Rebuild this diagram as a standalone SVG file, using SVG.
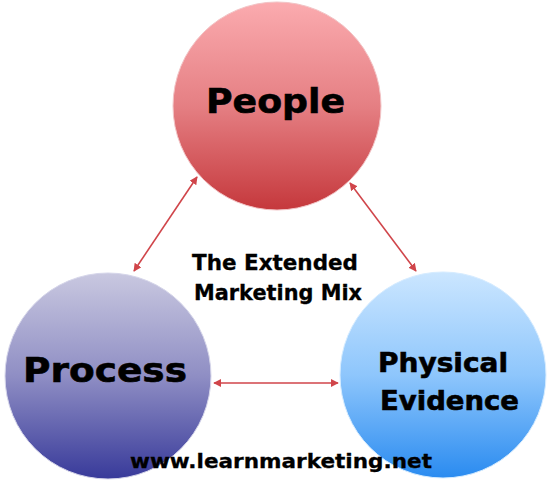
<svg xmlns="http://www.w3.org/2000/svg" width="549" height="480" viewBox="0 0 549 480">
<style>
.lbl{font-family:"DejaVu Sans","Liberation Sans",sans-serif;font-weight:bold;fill:#000;stroke:#000;stroke-width:0.6}
.sm{stroke-width:0.3}
.conn{stroke:#D0454A;stroke-width:1.6;fill:none;marker-start:url(#ah);marker-end:url(#ah)}
.ring{stroke-width:1}
</style>
<defs>
<linearGradient id="gPeople" x1="0" y1="0" x2="0" y2="1">
<stop offset="0" stop-color="#FBABAF"/>
<stop offset="0.5" stop-color="#E57F83"/>
<stop offset="1" stop-color="#C5383C"/>
</linearGradient>
<linearGradient id="gProcess" x1="0" y1="0" x2="0" y2="1">
<stop offset="0" stop-color="#C9C8E0"/>
<stop offset="0.5" stop-color="#8F8EC4"/>
<stop offset="1" stop-color="#383A9A"/>
</linearGradient>
<linearGradient id="gPhys" x1="0" y1="0" x2="0" y2="1">
<stop offset="0" stop-color="#CBE6FF"/>
<stop offset="0.5" stop-color="#8EC6FC"/>
<stop offset="1" stop-color="#2A8BF0"/>
</linearGradient>
<marker id="ah" viewBox="0 0 10 10" refX="9" refY="5" markerWidth="8" markerHeight="8" orient="auto-start-reverse" markerUnits="userSpaceOnUse">
<path d="M0,0 L10,5 L0,10 z" fill="#D0454A"/>
</marker>
</defs>
<rect width="549" height="480" fill="#fff"/>
<g id="connectors">
<line class="conn" x1="134" y1="271" x2="197" y2="177"/>
<line class="conn" x1="350" y1="183" x2="416" y2="271"/>
<line class="conn" x1="214" y1="383" x2="338" y2="383"/>
</g>
<g id="people">
<circle class="ring" cx="277" cy="106" r="104" fill="url(#gPeople)" stroke="#F2C4C6"/>
<text class="lbl" x="206" y="113" font-size="34" textLength="139" lengthAdjust="spacingAndGlyphs">People</text>
</g>
<g id="process">
<circle class="ring" cx="108" cy="376" r="103" fill="url(#gProcess)" stroke="#D6D6EA"/>
<text class="lbl" x="23" y="382" font-size="34" textLength="164" lengthAdjust="spacingAndGlyphs">Process</text>
</g>
<g id="physical-evidence">
<circle class="ring" cx="443" cy="375" r="103" fill="url(#gPhys)" stroke="#D6ECFF"/>
<text class="lbl" x="378" y="372" font-size="26" textLength="130" lengthAdjust="spacingAndGlyphs">Physical</text>
<text class="lbl" x="380" y="410" font-size="26" textLength="139" lengthAdjust="spacingAndGlyphs">Evidence</text>
</g>
<g id="title">
<text class="lbl sm" x="192" y="270" font-size="20.5" textLength="166" lengthAdjust="spacingAndGlyphs">The Extended</text>
<text class="lbl sm" x="194" y="300" font-size="20.5" textLength="168" lengthAdjust="spacingAndGlyphs">Marketing Mix</text>
</g>
<g id="url">
<text class="lbl sm" x="130" y="468" font-size="19.5" textLength="302" lengthAdjust="spacingAndGlyphs">www.learnmarketing.net</text>
</g>
</svg>
